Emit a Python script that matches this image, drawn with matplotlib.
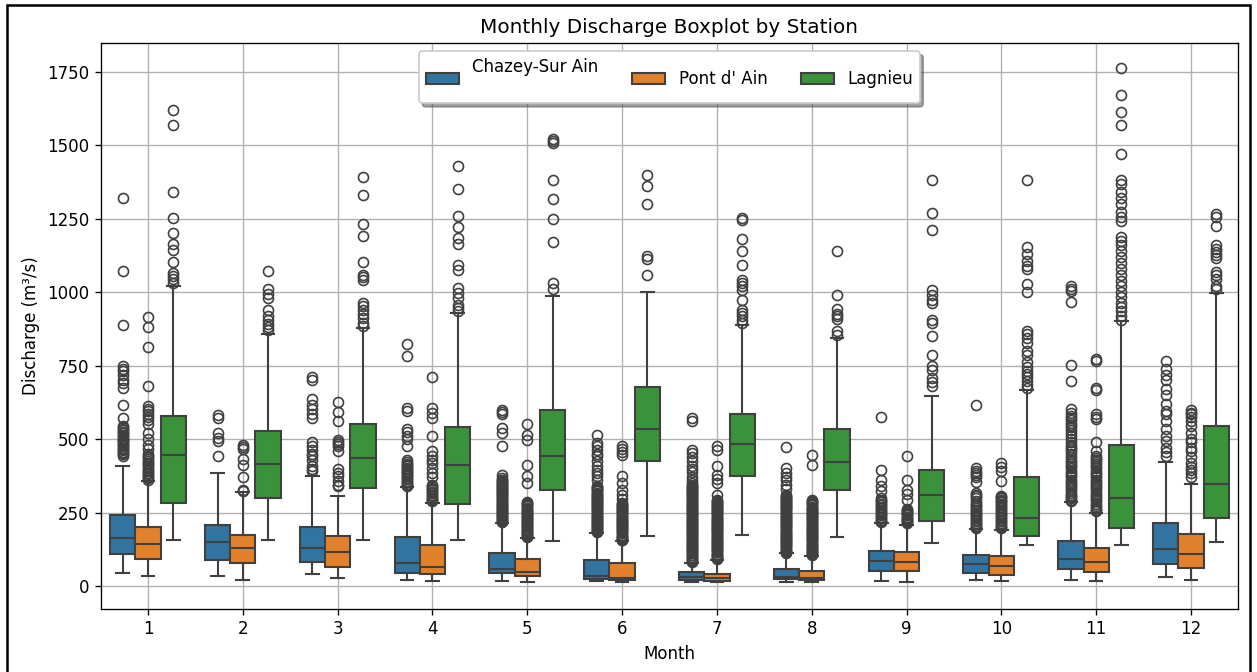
import matplotlib
matplotlib.use('Agg')
import matplotlib.pyplot as plt
from matplotlib.patches import Patch, Rectangle
import numpy as np

months = list(range(1, 13))
stations = ['Chazey-Sur Ain', "Pont d' Ain", 'Lagnieu']
colors = ['#3274a1', '#e1812c', '#3a923a']

# box stats (m3/s)
chazey_q1 = [109, 90, 83, 44, 44, 24, 19, 22, 52, 43, 58, 76]
chazey_med = [163, 151, 130, 78, 56, 33, 31, 31, 86, 74, 91, 127]
chazey_q3 = [240, 209, 201, 166, 112, 90, 47, 59, 118, 106, 153, 216]
chazey_lo = [45, 33, 41, 21, 16, 16, 12, 15, 18, 20, 20, 29]
chazey_hi = [410, 385, 374, 337, 215, 181, 78, 112, 215, 194, 287, 422]

pont_q1 = [92, 78, 65, 39, 35, 19, 16, 19, 50, 38, 46, 61]
pont_med = [144, 130, 116, 64, 48, 27, 27, 27, 81, 67, 82, 109]
pont_q3 = [201, 175, 169, 140, 92, 78, 42, 52, 115, 103, 129, 177]
pont_lo = [33, 19, 27, 18, 14, 12, 12, 15, 15, 18, 17, 20]
pont_hi = [357, 319, 305, 283, 164, 152, 90, 101, 209, 192, 248, 348]

lagnieu_q1 = [283, 301, 334, 279, 328, 425, 376, 328, 220, 171, 197, 232]
lagnieu_med = [446, 416, 436, 412, 442, 535, 484, 422, 311, 232, 299, 346]
lagnieu_q3 = [580, 529, 552, 540, 598, 678, 584, 535, 396, 370, 481, 544]
lagnieu_lo = [158, 156, 156, 156, 152, 169, 175, 166, 146, 139, 141, 151]
lagnieu_hi = [1023, 859, 879, 930, 986, 1002, 890, 845, 648, 666, 902, 999]

chazey_fliers = [
    [1321, 1073, 888, 748, 740, 733, 720, 703, 691, 674, 617, 572, 545, 540, 535, 530, 525, 520, 515, 510, 505, 500,
     498, 494, 490, 485, 480, 475, 470, 466, 462, 457, 452, 448, 443],
    [583, 572, 521, 504, 493, 444],
    [712, 703, 635, 617, 603, 585, 572, 489, 478, 464, 450, 444, 428, 410, 398, 390],
    [825, 782, 606, 595, 535, 523, 512, 501, 478, 430, 422, 415, 411, 407, 402, 398, 393, 388, 383, 378, 373, 368,
     363, 358, 353, 348, 344, 340],
    [600, 593, 585, 538, 521, 476, 379, 366, 362, 358, 355, 351, 347, 343, 340, 337, 333, 329, 326, 322, 319, 316,
     312, 308, 305, 301, 298, 294, 291, 287, 284, 280, 276, 272, 269, 266, 262, 259, 255, 251, 248, 245, 241, 238,
     234, 231, 227, 224, 221, 218],
    [515, 487, 475, 462, 450, 442, 425, 410, 395, 385, 373, 362, 340, 336, 333, 329, 325, 322, 318, 314, 311, 307,
     304, 300, 296, 293, 289, 286, 282, 278, 275, 271, 268, 264, 260, 257, 253, 250, 246, 243, 239, 235, 232, 228,
     225, 221, 218, 214, 211, 207, 203, 200, 196, 193, 189, 186, 183],
    [572, 562, 464, 452, 440, 425, 410, 398, 388, 372, 360, 350, 345, 341, 338, 334, 330, 327, 323, 320, 316, 312,
     309, 305, 302, 298, 294, 291, 287, 284, 280, 276, 273, 269, 266, 262, 258, 255, 251, 248, 244, 240, 237, 233,
     230, 226, 222, 219, 215, 212, 208, 204, 201, 197, 194, 190, 186, 183, 179, 176, 172, 168, 165, 161, 158, 154,
     150, 147, 143, 140, 136, 132, 129, 125, 122, 118, 114, 111, 107, 104, 100, 96, 93, 89, 86, 82],
    [472, 402, 385, 372, 360, 345, 330, 311, 307, 304, 300, 297, 293, 289, 286, 282, 279, 275, 271, 268, 264, 261,
     257, 253, 250, 246, 243, 239, 235, 232, 228, 225, 221, 217, 214, 210, 207, 203, 199, 196, 192, 189, 185, 181,
     178, 174, 171, 167, 163, 160, 156, 153, 149, 145, 142, 138, 135, 131, 127, 124, 120, 117, 113],
    [576, 396, 362, 340, 322, 300, 294, 290, 285, 280, 275, 270, 265, 260, 255, 250, 245, 240, 235, 230, 225, 221,
     218],
    [615, 400, 392, 385, 378, 372, 355, 318, 311, 305, 298, 290, 283, 277, 271, 265, 260, 255, 250, 245, 240, 235,
     230, 225, 220, 215, 210, 205, 200, 196],
    [1023, 1012, 1005, 966, 753, 697, 603, 590, 580, 572, 565, 555, 547, 540, 530, 520, 510, 500, 490, 480, 472, 465,
     458, 450, 440, 430, 422, 415, 408, 400, 393, 385, 378, 370, 362, 355, 348, 340, 333, 325, 318, 310, 305, 300,
     294, 289],
    [765, 740, 718, 700, 672, 650, 620, 595, 585, 560, 535, 510, 495, 470, 455, 443],
]

pont_fliers = [
    [916, 882, 814, 682, 612, 603, 595, 585, 575, 565, 552, 521, 500, 481, 465, 450, 444, 438, 432, 426, 420, 414,
     408, 402, 396, 390, 385, 380, 375, 370, 366, 362],
    [481, 472, 465, 432, 413, 370, 328, 322],
    [625, 591, 561, 498, 490, 482, 476, 459, 398, 385, 374, 356, 345, 339],
    [712, 606, 589, 572, 512, 459, 442, 430, 419, 402, 385, 370, 345, 340, 335, 330, 325, 320, 315, 310, 305, 300,
     295, 291, 288],
    [553, 515, 498, 413, 374, 349, 285, 281, 278, 274, 271, 267, 263, 260, 256, 253, 249, 245, 242, 238, 235, 231,
     227, 224, 220, 217, 213, 209, 206, 202, 199, 195, 191, 188, 184, 181, 177, 173, 170, 167],
    [476, 465, 455, 447, 373, 351, 328, 311, 295, 283, 279, 276, 272, 269, 265, 261, 258, 254, 251, 247, 243, 240,
     236, 233, 229, 225, 222, 218, 215, 211, 207, 204, 200, 197, 193, 189, 186, 182, 179, 175, 171, 168, 164, 161,
     158, 156],
    [476, 464, 408, 379, 365, 351, 311, 294, 290, 287, 283, 280, 276, 272, 269, 265, 262, 258, 254, 251, 247, 244,
     240, 236, 233, 229, 226, 222, 218, 215, 211, 208, 204, 200, 197, 193, 190, 186, 182, 179, 175, 172, 168, 164,
     161, 157, 154, 150, 146, 143, 139, 136, 132, 128, 125, 121, 118, 114, 110, 107, 103, 100, 96, 93],
    [447, 411, 292, 288, 285, 281, 278, 274, 270, 267, 263, 260, 256, 252, 249, 245, 242, 238, 234, 231, 227, 224,
     220, 216, 213, 209, 206, 202, 198, 195, 191, 188, 184, 180, 177, 173, 170, 166, 162, 159, 155, 152, 148, 144,
     141, 137, 134, 130, 126, 123, 119, 116, 112, 108, 105],
    [442, 360, 325, 312, 294, 262, 258, 255, 251, 248, 244, 240, 236, 232, 229, 225, 222, 218, 214],
    [419, 405, 390, 358, 307, 302, 298, 294, 290, 285, 280, 275, 270, 265, 260, 255, 250, 245, 240, 235, 230, 225,
     220, 215, 210, 205, 200, 196],
    [772, 765, 674, 668, 585, 575, 567, 490, 460, 443, 437, 430, 423, 415, 408, 400, 393, 385, 378, 370, 362, 355,
     348, 340, 333, 325, 318, 310, 303, 295, 288, 280, 273, 265, 259, 254],
    [600, 590, 585, 575, 560, 545, 520, 500, 490, 470, 460, 440, 420, 405, 395, 385, 372],
]

lagnieu_fliers = [
    [1622, 1571, 1342, 1253, 1202, 1166, 1145, 1102, 1066, 1055, 1045, 1032],
    [1073, 1011, 995, 982, 941, 918, 907, 893, 882, 870],
    [1393, 1333, 1233, 1193, 1102, 1060, 1052, 1041, 964, 955, 941, 927, 913, 896, 885],
    [1431, 1352, 1261, 1223, 1185, 1166, 1094, 1077, 1015, 998, 981, 958, 947, 938],
    [1522, 1515, 1508, 1382, 1319, 1251, 1172, 1032, 1011],
    [1401, 1361, 1302, 1123, 1113, 1060],
    [1253, 1245, 1183, 1142, 1094, 1041, 1030, 1020, 1009, 973, 941, 930, 918, 905, 896],
    [1142, 990, 943, 925, 918, 909, 867, 856],
    [1384, 1270, 1211, 1009, 990, 973, 964, 907, 896, 850, 788, 750, 737, 708, 694, 680],
    [1382, 1153, 1130, 1108, 1090, 1080, 1029, 1002, 869, 857, 845, 828, 800, 786, 763, 745, 733, 721, 710, 697,
     685, 674],
    [1763, 1672, 1613, 1570, 1470, 1384, 1370, 1340, 1320, 1300, 1275, 1255, 1242, 1189, 1175, 1160, 1140, 1120,
     1100, 1080, 1060, 1040, 1020, 1000, 985, 965, 950, 935, 920, 904],
    [1265, 1255, 1225, 1160, 1148, 1138, 1128, 1118, 1070, 1060, 1045, 1020, 1011],
]

all_stats = [
    (chazey_q1, chazey_med, chazey_q3, chazey_lo, chazey_hi, chazey_fliers),
    (pont_q1, pont_med, pont_q3, pont_lo, pont_hi, pont_fliers),
    (lagnieu_q1, lagnieu_med, lagnieu_q3, lagnieu_lo, lagnieu_hi, lagnieu_fliers),
]

line_col = '#404040'
fig = plt.figure(figsize=(1257 / 120, 672 / 120), dpi=120)
ax = fig.add_axes([0.0800, 0.094, 0.9052, 0.842])
ax.set_axisbelow(True)
ax.grid(True)

width = 0.8 / 3
for k, (q1, med, q3, lo, hi, fl) in enumerate(all_stats):
    stats = []
    for m in range(12):
        stats.append(dict(q1=q1[m], med=med[m], q3=q3[m], whislo=lo[m], whishi=hi[m], fliers=fl[m]))
    pos = np.arange(12) + (k - 1) * width
    ax.bxp(stats, positions=pos, widths=width, patch_artist=True, manage_ticks=False,
           boxprops=dict(facecolor=colors[k], edgecolor=line_col, linewidth=1.25),
           medianprops=dict(color=line_col, linewidth=1.25),
           whiskerprops=dict(color=line_col, linewidth=1.25),
           capprops=dict(color=line_col, linewidth=1.25),
           flierprops=dict(marker='o', markersize=6, markerfacecolor='none',
                           markeredgecolor=line_col, markeredgewidth=1.0))

ax.set_xticks(np.arange(12))
ax.set_xticklabels([str(m) for m in months])
ax.set_xlim(-0.5, 11.5)
ax.set_ylim(-78, 1849)
ax.set_yticks([0, 250, 500, 750, 1000, 1250, 1500, 1750])
ax.set_xlabel('Month')
ax.set_ylabel('Discharge (m³/s)')
ax.set_title('Monthly Discharge Boxplot by Station')

handles = [Patch(facecolor=c, edgecolor=line_col, linewidth=1.25) for c in colors]
labels = [stations[0] + '\n', stations[1], stations[2]]
ax.legend(handles, labels, loc='upper center', ncol=3, shadow=True)

# black frame round the whole figure
fig.patches.append(Rectangle((0.0056, -0.02), 0.9888, 1.0126, transform=fig.transFigure,
                             fill=False, edgecolor='black', linewidth=1.5))

fig.savefig('out.png', dpi=120)
